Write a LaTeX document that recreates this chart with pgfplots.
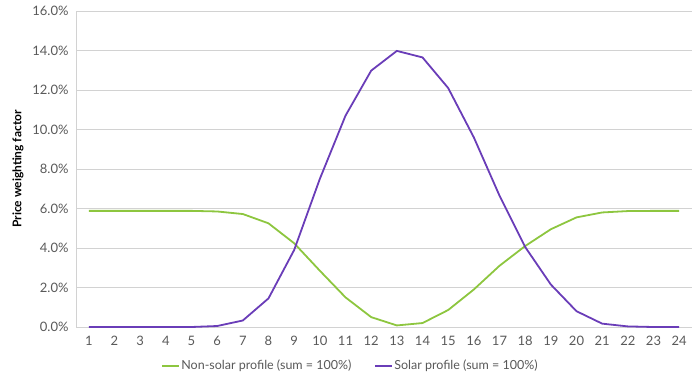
\documentclass[border=0pt]{standalone}
\usepackage{pgfplots}
\pgfplotsset{compat=1.18}
\usepackage{fontspec}
\setmainfont{Lato}
\definecolor{solargreen}{RGB}{141,198,63}
\definecolor{solarpurple}{RGB}{106,61,184}
\definecolor{gridgrey}{RGB}{210,210,210}
\definecolor{ticktext}{RGB}{89,89,89}
\begin{document}
\begin{tikzpicture}
\useasboundingbox (0,0) rectangle (700pt,381pt);
\begin{axis}[
  at={(76pt,54pt)}, anchor=south west,
  scale only axis, width=616pt, height=316pt,
  xmin=0.5, xmax=24.5, ymin=0, ymax=16,
  xtick={1,...,24}, ytick={0,2,...,16},
  /pgf/number format/assume math mode=true,
  yticklabel={\pgfmathprintnumber[fixed,fixed zerofill,precision=1]{\tick}\%},
  tick label style={font=\fontsize{13}{15}\selectfont, text=ticktext},
  xticklabel style={yshift=-6pt},
  yticklabel style={xshift=-4pt},
  major tick length=0pt,
  ymajorgrids, grid style={gridgrey, line width=0.8pt},
  axis x line*=bottom, axis y line*=left,
  axis line style={gridgrey, line width=0.8pt, -},
  ylabel={\textbf{Price weighting factor}},
  ylabel style={at={(axis description cs:-0.094,0.5)}, anchor=center, font=\fontsize{12}{14}\selectfont},
  legend columns=2,
  legend style={at={(axis description cs:0.445,-0.123)}, anchor=center, draw=none,
    font=\fontsize{12.5}{14}\selectfont, text=ticktext, column sep=0pt,
    /tikz/every even column/.append style={column sep=22pt},
    nodes={inner xsep=1pt}},
  legend image code/.code={\draw[#1, line width=1.8pt] (0pt,0pt) -- (17pt,0pt);},
  legend cell align=left,
]
\addplot[solargreen, line width=1.8pt] coordinates {
(1,5.88) (2,5.88) (3,5.88) (4,5.88) (5,5.88) (6,5.85) (7,5.72) (8,5.25) (9,4.24) (10,2.85)
(11,1.5) (12,0.5) (13,0.08) (14,0.2) (15,0.86) (16,1.9) (17,3.1) (18,4.1) (19,4.95) (20,5.55)
(21,5.8) (22,5.87) (23,5.88) (24,5.88)};
\addlegendentry{Non-solar profile (sum = 100\%)}
\addplot[solarpurple, line width=1.8pt] coordinates {
(1,0) (2,0) (3,0) (4,0) (5,0) (6,0.05) (7,0.33) (8,1.45) (9,3.9) (10,7.5)
(11,10.7) (12,12.98) (13,13.98) (14,13.65) (15,12.1) (16,9.6) (17,6.65) (18,4.05) (19,2.15) (20,0.8)
(21,0.17) (22,0.03) (23,0) (24,0)};
\addlegendentry{Solar profile (sum = 100\%)}
\end{axis}
\end{tikzpicture}
\end{document}
